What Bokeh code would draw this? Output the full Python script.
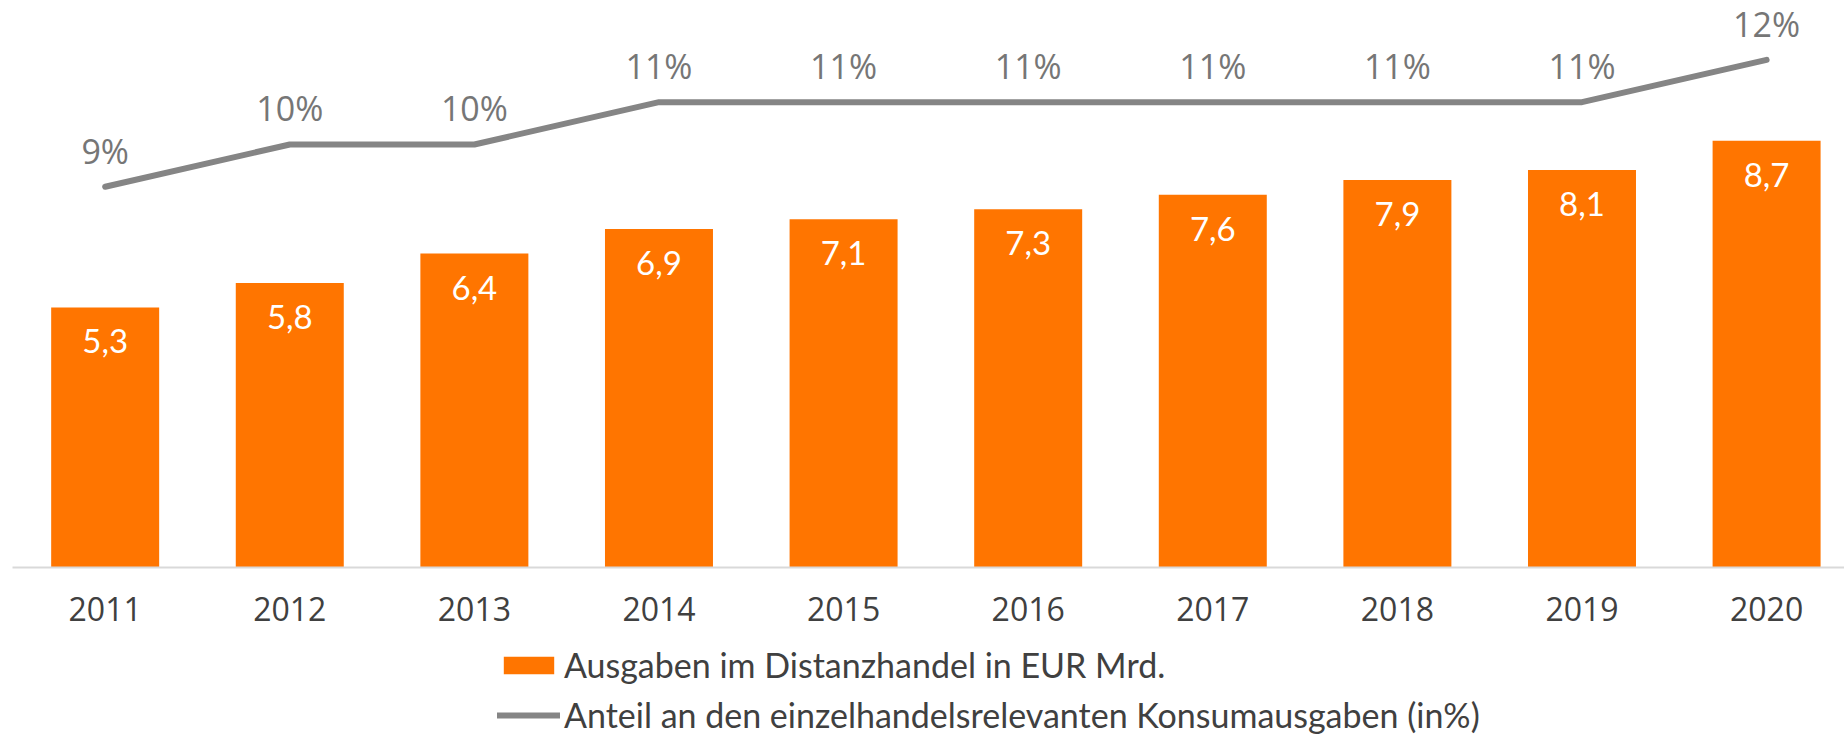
from bokeh.plotting import figure
from bokeh.layouts import column
from bokeh.models import (ColumnDataSource, Range1d, FixedTicker,
                          Legend, LegendItem)
from bokeh.core.properties import value
from bokeh.embed import file_html
from bokeh.resources import INLINE

years = ["2011", "2012", "2013", "2014", "2015", "2016", "2017", "2018", "2019", "2020"]
spend = [5.3, 5.8, 6.4, 6.9, 7.1, 7.3, 7.6, 7.9, 8.1, 8.7]
share = [9, 10, 10, 11, 11, 11, 11, 11, 11, 12]
bar_name = "Ausgaben im Distanzhandel in EUR Mrd."
line_name = "Anteil an den einzelhandelsrelevanten Konsumausgaben (in%)"

BAR = "#FF7500"
LINE = "#858585"

xs = list(range(len(years)))
src = ColumnDataSource(dict(
    x=xs, spend=spend, share=share,
    spend_lbl=[f"{v:.1f}".replace(".", ",") for v in spend],
    share_lbl=[f"{v}%" for v in share],
))

p = figure(frame_width=1832, frame_height=559, output_backend="svg",
           toolbar_location=None, x_range=Range1d(-0.502, 9.422),
           y_range=Range1d(0, 11.394), min_border_left=12, min_border_right=0,
           min_border_top=8, min_border_bottom=76)
p.outline_line_color = None
p.background_fill_color = "white"
p.border_fill_color = "white"
p.grid.visible = False
p.yaxis.visible = False
p.extra_y_ranges = {"pct": Range1d(0, 13.215)}

p.vbar(x="x", top="spend", width=0.585, source=src, fill_color=BAR,
       line_color=None)
p.line(x="x", y="share", source=src, y_range_name="pct", line_color=LINE,
       line_width=6, line_cap="round")

p.text(x="x", y="spend", text="spend_lbl", source=src, text_color="white",
       text_font=value("Lato"), text_font_size="33px", text_align="center",
       text_baseline="middle", y_offset=34)
p.text(x="x", y="share", text="share_lbl", source=src, y_range_name="pct",
       text_color="#767676", text_font=value("Open Sans"), text_font_size="34px",
       text_align="center", text_baseline="middle", y_offset=-36)

xa = p.xaxis[0]
xa.ticker = FixedTicker(ticks=xs)
xa.major_label_overrides = {i: y for i, y in enumerate(years)}
xa.axis_line_color = "#D9D9D9"
xa.axis_line_width = 2
xa.major_tick_line_color = None
xa.minor_tick_line_color = None
xa.major_tick_out = 0
xa.major_tick_in = 0
xa.major_label_text_font = "Open Sans"
xa.major_label_text_font_size = "32px"
xa.major_label_text_color = "#404040"
xa.major_label_standoff = 29

# legend strip below the chart (its glyphs lie outside its visible ranges)
lg = figure(width=1844, height=92, output_backend="svg", toolbar_location=None,
            x_range=Range1d(100, 101), y_range=Range1d(100, 101),
            min_border_left=0, min_border_right=0, min_border_top=0,
            min_border_bottom=0)
lg.outline_line_color = None
lg.axis.visible = False
lg.grid.visible = False
lb = lg.vbar(x="x", top="spend", width=0.585, source=src, fill_color=BAR,
             line_color=None)
ll = lg.line(x="x", y="share", source=src, line_color=LINE, line_width=6,
             line_cap="round")
legend = Legend(items=[LegendItem(label=bar_name, renderers=[lb]),
                       LegendItem(label=line_name, renderers=[ll])],
                location=(485, 0), orientation="vertical",
                glyph_width=63, glyph_height=22, label_height=24, spacing=9,
                label_standoff=4, padding=0, margin=0,
                label_text_font="Lato", label_text_font_size="34px",
                label_text_color="#404040", background_fill_alpha=0,
                border_line_color=None)
lg.add_layout(legend, "center")

layout = column(p, lg, spacing=0)
open("out.html", "w").write(file_html(layout, INLINE))
